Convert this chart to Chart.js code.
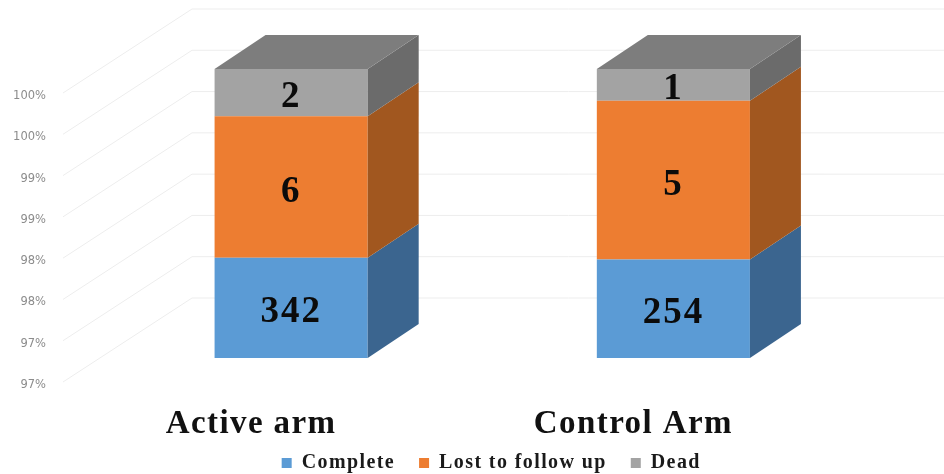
<!DOCTYPE html>
<html><head><meta charset="utf-8">
<style>html,body{margin:0;padding:0;background:#fff}canvas{display:block;filter:blur(0.4px)}</style>
<script src="https://cdn.jsdelivr.net/npm/chart.js@4"></script>
</head><body><canvas id="c" width="944" height="474"></canvas>
<script>
const categories = ['Active arm', 'Control Arm'];
const complete = [342, 254];
const lostToFollowUp = [6, 5];
const dead = [2, 1];
const seriesNames = ['Complete', 'Lost to follow up', 'Dead'];
const frontColors = ['#5B9BD5', '#ED7D31', '#A3A3A3'];
const sideColors = ['#3B658F', '#A1571F', '#6B6B6B'];
const topColor = '#7D7D7D';
const counts = [complete, lostToFollowUp, dead];
const totals = categories.map((_, i) => complete[i] + lostToFollowUp[i] + dead[i]);
const percents = counts.map(s => s.map((v, i) => v / totals[i] * 100));

const depth = {dx: 51, dy: -34};
const floorFront = {dx: -37, dy: 24};
const wallBack = {dx: 92, dy: -60};
const SERIF = '"Liberation Serif", serif';
const TEXT_SPACING = '1.4px';

const threeD = {
  id: 'threeD',
  beforeUpdate(chart) {
    chart.ctx.letterSpacing = TEXT_SPACING;
  },
  beforeDraw(chart) {
    chart.ctx.letterSpacing = TEXT_SPACING;
  },
  afterLayout(chart) {
    const l = chart.legend;
    l.left += 59; l.right += 59; l.top -= 11; l.bottom -= 10;
    const y = chart.scales.y;
    const drawLabels = y.drawLabels;
    y.drawLabels = function (area) {
      const c = this.ctx, keep = c.letterSpacing;
      c.letterSpacing = '0px';
      drawLabels.call(this, area);
      c.letterSpacing = keep;
    };
  },
  beforeDatasetsDraw(chart) {
    const {ctx, scales: {y}, chartArea: a} = chart;
    ctx.save();
    ctx.strokeStyle = '#EDEDED';
    ctx.lineWidth = 1;
    y.ticks.forEach(t => {
      const p = y.getPixelForValue(t.value);
      ctx.beginPath();
      ctx.moveTo(a.left + floorFront.dx, p + floorFront.dy);
      ctx.lineTo(a.left + wallBack.dx, p + wallBack.dy);
      ctx.lineTo(a.right + wallBack.dx, p + wallBack.dy);
      ctx.stroke();
    });
    ctx.restore();
  },
  afterDatasetsDraw(chart) {
    const {ctx} = chart;
    const bottom = chart.scales.y.bottom;
    ctx.save();
    const last = chart.data.datasets.length - 1;
    chart.data.datasets.forEach((ds, di) => {
      chart.getDatasetMeta(di).data.forEach((bar, i) => {
        const {x, y, base: rawBase, width} = bar.getProps(['x', 'y', 'base', 'width'], true);
        const base = Math.min(rawBase, bottom);
        const r = x + width / 2, l = x - width / 2;
        ctx.fillStyle = sideColors[di];
        ctx.beginPath();
        ctx.moveTo(r, y); ctx.lineTo(r + depth.dx, y + depth.dy);
        ctx.lineTo(r + depth.dx, base + depth.dy); ctx.lineTo(r, base);
        ctx.closePath(); ctx.fill();
        if (di === last) {
          ctx.fillStyle = topColor;
          ctx.beginPath();
          ctx.moveTo(l, y); ctx.lineTo(l + depth.dx, y + depth.dy);
          ctx.lineTo(r + depth.dx, y + depth.dy); ctx.lineTo(r, y);
          ctx.closePath(); ctx.fill();
        }
        ctx.fillStyle = '#0b0b0b';
        ctx.font = 'bold 37px ' + SERIF;
        ctx.letterSpacing = '2px';
        ctx.textAlign = 'center';
        ctx.textBaseline = 'middle';
        ctx.fillText(String(counts[di][i]), x, (y + base) / 2 + 5);
      });
    });
    ctx.restore();
  }
};

new Chart(document.getElementById('c'), {
  type: 'bar',
  data: {
    labels: categories,
    datasets: seriesNames.map((n, i) => ({
      label: n, data: percents[i], backgroundColor: frontColors[i], borderWidth: 0
    }))
  },
  plugins: [threeD],
  options: {
    responsive: false,
    animation: false,
    devicePixelRatio: 1,
    layout: {padding: {top: 69, right: 79.5, left: 0, bottom: -20}},
    datasets: {bar: {barPercentage: 1, categoryPercentage: 0.4005}},
    scales: {
      x: {
        stacked: true,
        grid: {display: false, drawTicks: false},
        border: {display: false},
        afterFit: s => { s.height = 82; },
        ticks: {
          padding: 47, labelOffset: -40, maxRotation: 0,
          color: '#111', font: {family: SERIF, weight: 'bold', size: 33}
        }
      },
      y: {
        stacked: true,
        min: 96.5, max: 100,
        grid: {display: false, drawTicks: false},
        border: {display: false},
        afterFit: s => { s.width = 100; },
        ticks: {
          stepSize: 0.5, autoSkip: false, padding: 54, labelOffset: 27,
          color: '#8C8C8C', font: {family: '"DejaVu Sans", sans-serif', size: 11.5},
          callback: v => Math.round(v) + '%'
        }
      }
    },
    plugins: {
      tooltip: {enabled: false},
      legend: {
        position: 'bottom',
        labels: {
          boxWidth: 10, boxHeight: 10, padding: 24,
          color: '#1a1a1a', font: {family: SERIF, weight: 'bold', size: 20}
        }
      }
    }
  }
});
</script></body></html>
